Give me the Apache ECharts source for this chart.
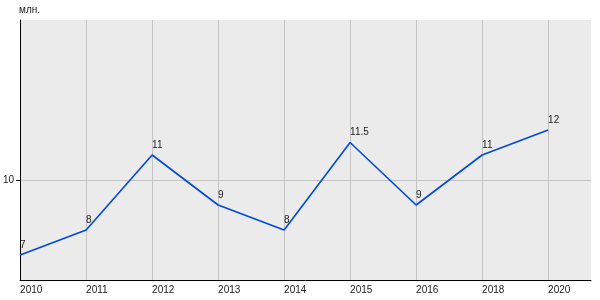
<!DOCTYPE html>
<html><head><meta charset="utf-8">
<script src="https://cdn.jsdelivr.net/npm/echarts@6/dist/echarts.min.js"></script>
<style>html,body{margin:0;padding:0;background:#fff}#c{width:600px;height:300px}</style>
</head><body><div id="c"></div>
<script>
const categories = ['2010','2011','2012','2013','2014','2015','2016','2018','2020'];
const values = [7, 8, 11, 9, 8, 11.5, 9, 11, 12];
const yTicks = [10];
const unitName = 'млн.';

const idx = categories.map((c, i) => i);
const chart = echarts.init(document.getElementById('c'));
chart.setOption({
  animation: false,
  backgroundColor: '#ffffff',
  textStyle: {fontFamily: 'Liberation Sans, Arial, sans-serif'},
  grid: {left: 20, top: 20, right: 9, bottom: 20, containLabel: false, show: true, backgroundColor: '#ebebeb', borderWidth: 0},
  xAxis: {
    type: 'value', min: 0, max: 8.65,
    axisLine: {show: true, onZero: false, lineStyle: {color: '#000', width: 1}},
    axisTick: {show: true, length: 0, customValues: idx},
    axisLabel: {customValues: idx, formatter: v => categories[v] ?? '', color: '#222', fontSize: 10, margin: 5, align: 'left'},
    splitLine: {show: true, lineStyle: {color: '#c4c4c4', width: 1}}
  },
  yAxis: {
    type: 'value', min: 6, max: 16.4,
    name: unitName, nameLocation: 'end', nameGap: 5,
    nameTextStyle: {color: '#222', fontSize: 10, align: 'left', padding: [0, 0, 0, -1]},
    axisLine: {show: true, lineStyle: {color: '#000', width: 1}},
    axisTick: {show: true, length: 4, customValues: yTicks, lineStyle: {color: '#000'}},
    axisLabel: {customValues: yTicks, color: '#222', fontSize: 10, margin: 6},
    splitLine: {show: true, lineStyle: {color: '#c4c4c4', width: 1}}
  },
  series: [{
    type: 'line',
    data: values.map((v, i) => [i, v]),
    symbol: 'circle', symbolSize: 2, showSymbol: true,
    itemStyle: {color: 'rgba(0,0,0,0)', borderWidth: 0},
    lineStyle: {color: '#0048e0', width: 1.6},
    label: {show: true, position: 'top', align: 'left', distance: 4, color: '#222', fontSize: 10,
      formatter: p => String(p.value[1])}
  }]
});
</script></body></html>
